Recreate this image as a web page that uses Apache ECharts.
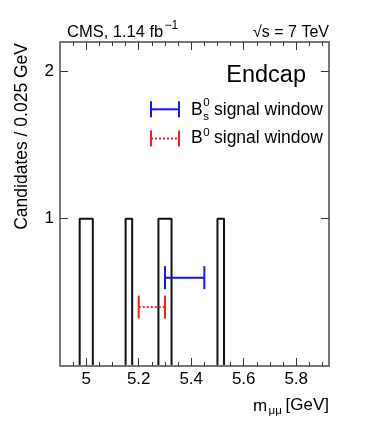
<!DOCTYPE html>
<html>
<head>
<meta charset="utf-8">
<script src="https://cdn.jsdelivr.net/npm/echarts@6/dist/echarts.min.js"></script>
<style>
  html, body { margin: 0; padding: 0; background: #fff; }
  #chart { width: 374px; height: 421px; }
</style>
</head>
<body>
<div id="chart"></div>
<script>
// m_mumu histogram, endcap, 0.025 GeV bins
const binWidth = 0.025;
const xMin = 4.9;
const xMax = 5.925;
const binLow = [4.975, 5.0, 5.15, 5.275, 5.3, 5.5];
const binCounts = [1, 1, 1, 1, 1, 1];

// signal windows [lo, hi] and the height they are drawn at
const bsWindow = [5.3, 5.45];
const bdWindow = [5.2, 5.3];
const windowLevels = [0.6, 0.4];

const majorTicks = [5, 5.2, 5.4, 5.6, 5.8];
const minorTicks = [4.95, 5.05, 5.1, 5.15, 5.25, 5.3, 5.35, 5.45, 5.5, 5.55, 5.65, 5.7, 5.75, 5.85, 5.9];
const yTicks = [1, 2];

// step outline of the histogram
const outline = [[xMin, 0]];
binLow.forEach((lo, i) => {
  outline.push([lo, binCounts[i]]);
  const next = binLow[i + 1];
  if (next === undefined || Math.abs(lo + binWidth - next) > 1e-6) {
    outline.push([lo + binWidth, 0]);
  }
});
outline.push([xMax, 0]);

const FONT = '"Liberation Sans", Arial, Helvetica, sans-serif';
const frame = { show: true, lineStyle: { color: '#777', width: 2 } };
const tickStyle = { color: '#333', width: 1 };

function windowItem(dotted) {
  return function (params, api) {
    const y = api.value(2);
    const a = api.coord([api.value(0), y]);
    const b = api.coord([api.value(1), y]);
    const color = api.visual('color');
    const h = 11.5;
    return {
      type: 'group',
      children: [
        { type: 'line', shape: { x1: a[0], y1: a[1], x2: b[0], y2: b[1] },
          style: { stroke: color, lineWidth: 2, lineDash: dotted ? [2, 2] : null } },
        { type: 'line', shape: { x1: a[0], y1: a[1] - h, x2: a[0], y2: a[1] + h },
          style: { stroke: color, lineWidth: 2 } },
        { type: 'line', shape: { x1: b[0], y1: b[1] - h, x2: b[0], y2: b[1] + h },
          style: { stroke: color, lineWidth: 2 } }
      ]
    };
  };
}

function txt(text, x, y, size, align, extra) {
  return Object.assign({
    type: 'text', x: x, y: y, silent: true,
    style: { text: text, fontSize: size, fontFamily: FONT, fill: '#000',
             align: align || 'left', verticalAlign: 'middle' }
  }, extra || {});
}

function legendMark(y, color, dotted) {
  const x1 = 151, x2 = 179, h = 8;
  return [
    { type: 'line', shape: { x1: x1, y1: y, x2: x2, y2: y },
      style: { stroke: color, lineWidth: 2, lineDash: dotted ? [2, 2] : null } },
    { type: 'line', shape: { x1: x1, y1: y - h, x2: x1, y2: y + h }, style: { stroke: color, lineWidth: 2 } },
    { type: 'line', shape: { x1: x2, y1: y - h, x2: x2, y2: y + h }, style: { stroke: color, lineWidth: 2 } }
  ];
}

const chart = echarts.init(document.getElementById('chart'));
const option = {
  animation: false,
  grid: { left: 60, right: 45, top: 42, bottom: 55 },
  xAxis: [
    { type: 'value', position: 'bottom', min: xMin, max: xMax, z: 5,
      axisLine: frame,
      axisTick: { inside: true, length: 8, lineStyle: tickStyle, customValues: majorTicks },
      axisLabel: { customValues: majorTicks, fontSize: 17, fontFamily: FONT, color: '#000', margin: 5 },
      splitLine: { show: false } },
    { type: 'value', position: 'bottom', min: xMin, max: xMax, z: 5,
      axisLine: { show: false },
      axisTick: { inside: true, length: 4, lineStyle: tickStyle, customValues: minorTicks },
      axisLabel: { show: false }, splitLine: { show: false } },
    { type: 'value', position: 'top', min: xMin, max: xMax, z: 5,
      axisLine: frame,
      axisTick: { inside: true, length: 8, lineStyle: tickStyle, customValues: majorTicks },
      axisLabel: { show: false }, splitLine: { show: false } },
    { type: 'value', position: 'top', min: xMin, max: xMax, z: 5,
      axisLine: { show: false },
      axisTick: { inside: true, length: 4, lineStyle: tickStyle, customValues: minorTicks },
      axisLabel: { show: false }, splitLine: { show: false } }
  ],
  yAxis: [
    { type: 'value', position: 'left', min: 0, max: 2.2, z: 5,
      axisLine: frame,
      axisTick: { inside: true, length: 8, lineStyle: tickStyle, customValues: yTicks },
      axisLabel: { customValues: yTicks, fontSize: 17, fontFamily: FONT, color: '#000', margin: 6 },
      splitLine: { show: false } },
    { type: 'value', position: 'right', min: 0, max: 2.2, z: 5,
      axisLine: frame,
      axisTick: { inside: true, length: 8, lineStyle: tickStyle, customValues: yTicks },
      axisLabel: { show: false }, splitLine: { show: false } }
  ],
  series: [
    { name: 'Data', type: 'line', step: 'end', data: outline, showSymbol: false,
      lineStyle: { color: '#111', width: 2 }, z: 2 },
    { name: 'Bs window', type: 'custom', renderItem: windowItem(false), itemStyle: { color: '#1414ff' },
      data: [[bsWindow[0], bsWindow[1], windowLevels[0]]], z: 3 },
    { name: 'B0 window', type: 'custom', renderItem: windowItem(true), itemStyle: { color: '#ff1a1a' },
      data: [[bdWindow[0], bdWindow[1], windowLevels[1]]], z: 3 }
  ],
  graphic: [
    txt('CMS, 1.14 fb', 67, 32.5, 16.5),
    txt('\u22121', 164.5, 25.5, 12),
    txt('\u221As = 7 TeV', 329, 32.5, 16, 'right'),
    txt('Endcap', 306, 76, 23.5, 'right'),
    ...legendMark(109.3, '#1414ff', false),
    ...legendMark(138.5, '#ff1a1a', true),
    txt('B', 191, 109.7, 17.5),
    txt('0', 203.3, 103, 11.5),
    txt('s', 203.3, 116.5, 11.5),
    txt('signal window', 214, 109.7, 17.5),
    txt('B', 191, 138.3, 17.5),
    txt('0', 203.3, 132.5, 11.5),
    txt('signal window', 214, 138.3, 17.5),
    txt('Candidates / 0.025 GeV', 22, 43, 17.5, 'right', { rotation: Math.PI / 2 }),
    txt('m', 253, 406, 17),
    txt('\u03BC\u03BC', 268.5, 410.5, 11.5),
    txt('[GeV]', 329, 405.5, 17, 'right')
  ]
};
chart.setOption(option);
</script>
</body>
</html>
